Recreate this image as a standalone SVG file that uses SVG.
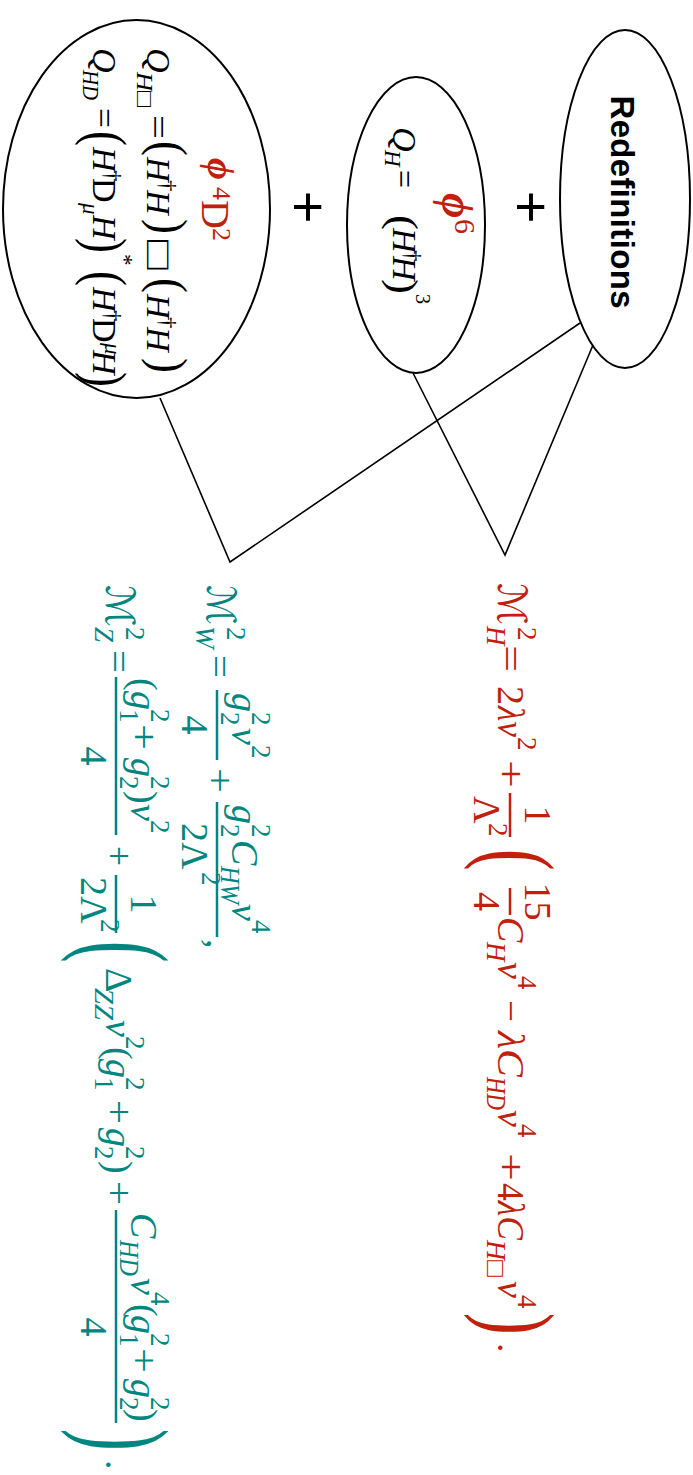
<svg xmlns="http://www.w3.org/2000/svg" width="693" height="1475" viewBox="0 0 693 1475">
<style>
text{font-family:"Liberation Serif","DejaVu Serif",serif}
.i{font-style:italic}
.u{font-style:normal}
.r{fill:#c0200c}
.t{fill:#00867e}
.m{font-size:38px}
.sc{font-size:27px}
.n{font-size:34px}
.ns{font-size:23px}
.p{font-size:30px}
.bp{font-size:50px}
.rb{stroke:#c0200c;stroke-width:2.5}
.tb{stroke:#00867e;stroke-width:2.5}
.node{fill:none;stroke:#000;stroke-width:2}
.conn{stroke:#000;stroke-width:1.6;fill:none}
.sans{font-family:"Liberation Sans",Arial,sans-serif}
.scr{font-family:"DejaVu Serif","DejaVu Sans",serif}
</style>
<rect width="693" height="1475" fill="#fff"/>
<g transform="translate(693 0) rotate(90)">
<g id="connectors">
<polyline class="conn" points="398,533 562,463 323,113"/>
<polyline class="conn" points="373,280 555,188 345,100"/>
</g>
<g id="node-redef">
<ellipse class="node" cx="199" cy="68" rx="169" ry="65"/>
<text class="sans" x="202" y="82" font-size="33" font-weight="bold" text-anchor="middle" textLength="213">Redefinitions</text>
</g>
<g id="plus1"><text class="sans" x="207" y="181" font-size="56" text-anchor="middle">+</text></g>
<g id="plus2"><text class="sans" x="207" y="404" font-size="56" text-anchor="middle">+</text></g>
<g id="node-phi6">
<ellipse class="node" cx="225" cy="277" rx="148" ry="69"/>
<text class="i r" x="193" y="251" font-size="44" font-weight="bold">ϕ</text>
<text class="r" x="219" y="238" font-size="30">6</text>
<text class="i n" x="127" y="300">Q</text>
<text class="i ns" x="150" y="308">H</text>
<text class="n" x="170" y="300" textLength="18" lengthAdjust="spacingAndGlyphs">=</text>
<text class="p" transform="translate(215 303) scale(1.5 1.35)">(</text>
<text class="i n" x="228" y="300">H</text>
<text class="ns" x="250" y="288">†</text>
<text class="i n" x="256" y="300">H</text>
<text class="p" transform="translate(279 303) scale(1.5 1.35)">)</text>
<text x="294" y="277" font-size="20">3</text>
</g>
<g id="node-phi4d2">
<ellipse class="node" cx="209" cy="556.5" rx="189" ry="133.5"/>
<text class="i r" x="158" y="485" font-size="38" font-weight="bold">ϕ</text>
<text class="r" x="187" y="480" font-size="26">4</text>
<text class="r" x="200" y="491" font-size="40">D</text>
<text class="r" x="228" y="480" font-size="26">2</text>
<text class="i n" x="48" y="546">Q</text>
<text class="i ns" x="72" y="556" textLength="35" lengthAdjust="spacingAndGlyphs">H<tspan class="u">□</tspan></text>
<text class="n" x="115" y="546" textLength="24" lengthAdjust="spacingAndGlyphs">=</text>
<text class="p" transform="translate(141 541) scale(1.5 1.7)">(</text>
<text class="i n" x="157" y="546">H</text>
<text class="ns" x="180" y="533">†</text>
<text class="i n" x="190" y="546">H</text>
<text class="p" transform="translate(219 541) scale(1.5 1.7)">)</text>
<text x="240" y="546" font-size="36" textLength="30" lengthAdjust="spacingAndGlyphs">□</text>
<text class="p" transform="translate(278 541) scale(1.5 1.7)">(</text>
<text class="i n" x="294" y="546">H</text>
<text class="ns" x="317" y="533">†</text>
<text class="i n" x="327" y="546">H</text>
<text class="p" transform="translate(358 541) scale(1.5 1.7)">)</text>
<text class="i n" x="48" y="600">Q</text>
<text class="i ns" x="70" y="610" textLength="30" lengthAdjust="spacingAndGlyphs">HD</text>
<text class="n" x="108" y="600" textLength="20" lengthAdjust="spacingAndGlyphs">=</text>
<text class="p" transform="translate(131 606) scale(1.5 1.92)">(</text>
<text class="i n" x="147" y="600">H</text>
<text class="ns" x="170" y="588">†</text>
<text class="n" x="178" y="600">D</text>
<text class="i ns" x="203" y="610">μ</text>
<text class="i n" x="215" y="600">H</text>
<text class="p" transform="translate(238 606) scale(1.5 1.92)">)</text>
<text class="ns" x="254" y="576">*</text>
<text class="p" transform="translate(271 606) scale(1.5 1.92)">(</text>
<text class="i n" x="287" y="600">H</text>
<text class="ns" x="310" y="588">†</text>
<text class="n" x="318" y="600">D</text>
<text class="i ns" x="343" y="588">μ</text>
<text class="i n" x="350" y="600">H</text>
<text class="p" transform="translate(372 606) scale(1.5 1.92)">)</text>
</g>
<g id="formula-mh">
<text class="scr i r" x="583" y="195" font-size="40" textLength="42" lengthAdjust="spacingAndGlyphs">ℳ</text>
<text class="i r sc" x="626" y="206">H</text>
<text class="r sc" x="627" y="175">2</text>
<text class="r m" x="645" y="195" textLength="27" lengthAdjust="spacingAndGlyphs">=</text>
<text class="r m" x="686" y="195">2</text>
<text class="i r m" x="706" y="195" textLength="31" lengthAdjust="spacingAndGlyphs">λv</text>
<text class="r sc" x="737" y="175">2</text>
<text class="r m" x="760" y="195" textLength="28" lengthAdjust="spacingAndGlyphs">+</text>
<line class="rb" x1="793" y1="183" x2="837" y2="183"/>
<text class="r m" x="815" y="168" text-anchor="middle">1</text>
<text class="r m" x="796" y="219">Λ</text>
<text class="r sc" x="823" y="204">2</text>
<text class="r bp" transform="translate(849 208) scale(1.3 1.98)">(</text>
<line class="rb" x1="888" y1="183" x2="915" y2="183"/>
<text class="r m" x="901.5" y="168" text-anchor="middle">15</text>
<text class="r m" x="901.5" y="219" text-anchor="middle">4</text>
<text class="i r m" x="917" y="195">C</text>
<text class="i r sc" x="942" y="206">H</text>
<text class="i r m" x="962" y="195">v</text>
<text class="r sc" x="976" y="175">4</text>
<text class="r m" x="1000" y="195" textLength="22" lengthAdjust="spacingAndGlyphs">−</text>
<text class="i r m" x="1031" y="195" textLength="46" lengthAdjust="spacingAndGlyphs">λC</text>
<text class="i r sc" x="1077" y="206" textLength="33" lengthAdjust="spacingAndGlyphs">HD</text>
<text class="i r m" x="1110" y="195">v</text>
<text class="r sc" x="1124" y="175">4</text>
<text class="r m" x="1153" y="195" textLength="28" lengthAdjust="spacingAndGlyphs">+</text>
<text class="r m" x="1183" y="195" textLength="57" lengthAdjust="spacingAndGlyphs">4<tspan class="i">λC</tspan></text>
<text class="i r sc" x="1240" y="206" textLength="37" lengthAdjust="spacingAndGlyphs">H<tspan class="u">□</tspan></text>
<text class="i r m" x="1281" y="195">v</text>
<text class="r sc" x="1295" y="175">4</text>
<text class="r bp" transform="translate(1313 208) scale(1.3 1.98)">)</text>
<text class="r m" x="1343" y="195">.</text>
</g>
<g id="formula-mw">
<text class="scr i t" x="585" y="486" font-size="40" textLength="40" lengthAdjust="spacingAndGlyphs">ℳ</text>
<text class="i t sc" x="626" y="497">W</text>
<text class="t sc" x="627" y="466">2</text>
<text class="t m" x="655" y="486" textLength="23" lengthAdjust="spacingAndGlyphs">=</text>
<line class="tb" x1="690" y1="476" x2="760" y2="476"/>
<text class="i t m" x="693" y="461">g</text>
<text class="t sc" x="712" y="472">2</text>
<text class="t sc" x="712" y="441">2</text>
<text class="i t m" x="728" y="461">v</text>
<text class="t sc" x="745" y="441">2</text>
<text class="t m" x="725" y="511" text-anchor="middle">4</text>
<text class="t m" x="768" y="486" textLength="25" lengthAdjust="spacingAndGlyphs">+</text>
<line class="tb" x1="802" y1="476" x2="937" y2="476"/>
<text class="i t m" x="805" y="461">g</text>
<text class="t sc" x="824" y="472">2</text>
<text class="t sc" x="824" y="441">2</text>
<text class="i t m" x="840" y="461">C</text>
<text class="i t sc" x="866" y="472" textLength="38" lengthAdjust="spacingAndGlyphs">HW</text>
<text class="i t m" x="904" y="461">v</text>
<text class="t sc" x="920" y="441">4</text>
<text class="t m" x="823" y="511">2Λ</text>
<text class="t sc" x="872" y="491">2</text>
<text class="t m" x="939" y="486">,</text>
</g>
<g id="formula-mz">
<text class="scr i t" x="585" y="587" font-size="40" textLength="42" lengthAdjust="spacingAndGlyphs">ℳ</text>
<text class="i t sc" x="627" y="598">Z</text>
<text class="t sc" x="627" y="567">2</text>
<text class="t m" x="650" y="587" textLength="23" lengthAdjust="spacingAndGlyphs">=</text>
<line class="tb" x1="677" y1="577" x2="835" y2="577"/>
<text class="t m" x="678" y="562">(</text>
<text class="i t m" x="691" y="562">g</text>
<text class="t sc" x="709" y="573">1</text>
<text class="t sc" x="709" y="542">2</text>
<text class="t m" x="724" y="562" textLength="26" lengthAdjust="spacingAndGlyphs">+</text>
<text class="i t m" x="758" y="562">g</text>
<text class="t sc" x="776" y="573">2</text>
<text class="t sc" x="776" y="542">2</text>
<text class="t m" x="791" y="562">)</text>
<text class="i t m" x="804" y="562">v</text>
<text class="t sc" x="820" y="542">2</text>
<text class="t m" x="756" y="612" text-anchor="middle">4</text>
<text class="t m" x="846" y="587" textLength="20" lengthAdjust="spacingAndGlyphs">+</text>
<line class="tb" x1="875" y1="577" x2="933" y2="577"/>
<text class="t m" x="904" y="562" text-anchor="middle">1</text>
<text class="t m" x="877" y="612">2Λ</text>
<text class="t sc" x="919" y="592">2</text>
<text class="t bp" transform="translate(941 607) scale(1.3 2.37)">(</text>
<text class="t m" x="968" y="587">Δ</text>
<text class="i t sc" x="988" y="598" textLength="32" lengthAdjust="spacingAndGlyphs">ZZ</text>
<text class="i t m" x="1020" y="587">v</text>
<text class="t sc" x="1036" y="567">2</text>
<text class="t m" x="1047" y="587">(</text>
<text class="i t m" x="1059" y="587">g</text>
<text class="t sc" x="1077" y="598">1</text>
<text class="t sc" x="1077" y="567">2</text>
<text class="t m" x="1100" y="587" textLength="24" lengthAdjust="spacingAndGlyphs">+</text>
<text class="i t m" x="1128" y="587">g</text>
<text class="t sc" x="1146" y="598">2</text>
<text class="t sc" x="1146" y="567">2</text>
<text class="t m" x="1161" y="587">)</text>
<text class="t m" x="1181" y="587" textLength="24" lengthAdjust="spacingAndGlyphs">+</text>
<line class="tb" x1="1210" y1="577" x2="1423" y2="577"/>
<text class="i t m" x="1213" y="562">C</text>
<text class="i t sc" x="1240" y="573" textLength="36" lengthAdjust="spacingAndGlyphs">HD</text>
<text class="i t m" x="1278" y="562">v</text>
<text class="t sc" x="1292" y="542">4</text>
<text class="t m" x="1304" y="562">(</text>
<text class="i t m" x="1315" y="562">g</text>
<text class="t sc" x="1333" y="573">1</text>
<text class="t sc" x="1333" y="542">2</text>
<text class="t m" x="1348" y="562" textLength="25" lengthAdjust="spacingAndGlyphs">+</text>
<text class="i t m" x="1379" y="562">g</text>
<text class="t sc" x="1397" y="573">2</text>
<text class="t sc" x="1397" y="542">2</text>
<text class="t m" x="1409" y="562">)</text>
<text class="t m" x="1327" y="612" text-anchor="middle">4</text>
<text class="t bp" transform="translate(1429 607) scale(1.3 2.37)">)</text>
<text class="t m" x="1460" y="587">.</text>
</g>
</g>
</svg>
